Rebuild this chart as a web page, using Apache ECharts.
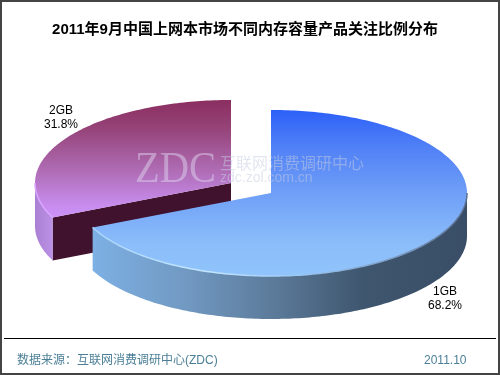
<!DOCTYPE html>
<html><head><meta charset="utf-8">
<style>html,body{margin:0;padding:0;background:#fff}#c{width:500px;height:375px}</style>
<script src="https://cdn.jsdelivr.net/npm/echarts@6/dist/echarts.min.js"></script>
</head><body><div id="c"></div>
<script>
const titleText = '2011年9月中国上网本市场不同内存容量产品关注比例分布';
const sourceText = '数据来源：互联网消费调研中心(ZDC)';
const dateText = '2011.10';
const categories = ['1GB', '2GB'];
const shares = [68.2, 31.8];

const SANS = '"Liberation Sans","Noto Sans CJK SC",sans-serif';
const G = echarts.graphic.LinearGradient;
const RX = 196, RY = 83, DEPTH = 43;
const looks = [
  { cx: 271, cy: 193, z: 10, label: [445, 299],
    top: new G(0, 110, 0, 276, [{offset:0,color:'#2c60f8'},{offset:.22,color:'#5080f6'},{offset:.5,color:'#6f9ff7'},{offset:.8,color:'#8bbdfa'},{offset:1,color:'#90c4fb'}], true),
    side: new G(92, 0, 467, 0, [{offset:0,color:'#7db0e4'},{offset:.25,color:'#7199c2'},{offset:.5,color:'#5a7897'},{offset:.72,color:'#3f566f'},{offset:1,color:'#394d66'}], true),
    rim: new G(92, 0, 467, 0, [{offset:0,color:'#a8d4fb'},{offset:.3,color:'#c4e6ff'},{offset:.55,color:'#9cc8f4'},{offset:.8,color:'#7c9cc4'},{offset:1,color:'#5a6f90'}], true) },
  { cx: 231, cy: 183, z: 1, label: [61, 118], face: '#40122e',
    top: new G(0, 100, 0, 217, [{offset:0,color:'#8b2e60'},{offset:.25,color:'#96447a'},{offset:.6,color:'#af6cb4'},{offset:.9,color:'#c78cee'},{offset:1,color:'#cc92f6'}], true),
    side: new G(34, 0, 52, 0, [{offset:0,color:'#a97fd2'},{offset:1,color:'#bb90e6'}], true),
    rim: '#dca6ff' }
];
const total = shares.reduce((a, b) => a + b, 0);
const starts = shares.map((_, i) => shares.slice(0, i).reduce((a, b) => a + b, 0) / total * 360);

function pt(l, deg, dy) {
  const r = deg * Math.PI / 180;
  return [l.cx + RX * Math.sin(r), l.cy - RY * Math.cos(r) + (dy || 0)];
}
function arc(l, a, b, dy) {
  const out = [];
  const n = Math.max(1, Math.ceil(Math.abs(b - a)));
  for (let i = 0; i <= n; i++) out.push(pt(l, a + (b - a) * i / n, dy));
  return out;
}
function renderItem(params, api) {
  const i = params.dataIndex, l = looks[i];
  const a0 = starts[i], a1 = a0 + api.value(0) / total * 360;
  const kids = [];
  const c0 = [l.cx, l.cy];
  const a0s = Math.sin(a0 * Math.PI / 180);
  if (l.face && a0s < 0) {
    const p = pt(l, a0);
    kids.push({ type:'polygon', z2:l.z, shape:{points:[c0, p, [p[0], p[1]+DEPTH], [l.cx, l.cy+DEPTH]]}, style:{fill:l.face} });
  }
  const sa = Math.max(a0, 90), sb = Math.min(a1, 270);
  if (sb > sa) {
    kids.push({ type:'polygon', z2:l.z, shape:{points: arc(l, sa, sb, 0).concat(arc(l, sb, sa, DEPTH))}, style:{fill:l.side} });
  }
  kids.push({ type:'polygon', z2:l.z+1, shape:{points:[c0].concat(arc(l, a0, a1, 0))}, style:{fill:l.top} });
  if (sb > sa) {
    kids.push({ type:'polyline', z2:l.z+2, shape:{points:arc(l, sa, sb, 0)}, style:{fill:null, stroke:l.rim, lineWidth:1.5} });
  }
  kids.push({ type:'text', z2:50, style:{ text: api.value(1) + '\n' + api.value(0).toFixed(1) + '%',
    x:l.label[0], y:l.label[1], align:'center', verticalAlign:'middle', font:'12px '+SANS, fill:'#000', lineHeight:14 } });
  return { type:'group', children:kids };
}
const wmShadow = { shadowColor:'rgba(70,60,90,0.3)', shadowBlur:2, shadowOffsetX:1, shadowOffsetY:1 };
const chart = echarts.init(document.getElementById('c'), null, { renderer:'canvas' });
chart.setOption({
  animation:false,
  backgroundColor:'#fff',
  series:[{
    type:'custom', coordinateSystem:'none', renderItem, silent:true,
    encode:{},
    dimensions:[{name:'share',type:'number'},{name:'category',type:'ordinal'}],
    data: categories.map((c, i) => [shares[i], c])
  }],
  graphic:[
    { type:'rect', z:200, silent:true, shape:{x:1,y:1,width:498,height:373}, style:{fill:null,stroke:'#444',lineWidth:2} },
    { type:'line', z:200, silent:true, shape:{x1:4,y1:338.5,x2:496,y2:338.5}, style:{stroke:'#000',lineWidth:1} },
    { type:'text', z:200, silent:true, style:{text:titleText,x:245,y:30,align:'center',verticalAlign:'middle',font:'bold 15px '+SANS,fill:'#000'} },
    { type:'text', z:200, silent:true, style:{text:sourceText,x:17,y:361,verticalAlign:'middle',font:'12px '+SANS,fill:'#4b7f97'} },
    { type:'text', z:200, silent:true, style:{text:dateText,x:424,y:361,verticalAlign:'middle',font:'12px '+SANS,fill:'#4b7f97'} },
    { type:'text', z:150, silent:true, x:135, y:170, scaleX:0.9, style:Object.assign({text:'ZDC',x:0,y:0,verticalAlign:'middle',font:'45px "Liberation Serif",serif',fill:'rgba(222,212,238,0.5)'}, wmShadow) },
    { type:'text', z:150, silent:true, style:Object.assign({text:'互联网消费调研中心',x:220,y:163,verticalAlign:'middle',font:'16px "Noto Sans CJK SC",sans-serif',fill:'rgba(200,205,225,0.5)'}, wmShadow) },
    { type:'text', z:150, silent:true, style:Object.assign({text:'zdc.zol.com.cn',x:220,y:178,verticalAlign:'middle',font:'14px '+SANS,fill:'rgba(200,205,225,0.5)'}, wmShadow) }
  ]
});
</script></body></html>
